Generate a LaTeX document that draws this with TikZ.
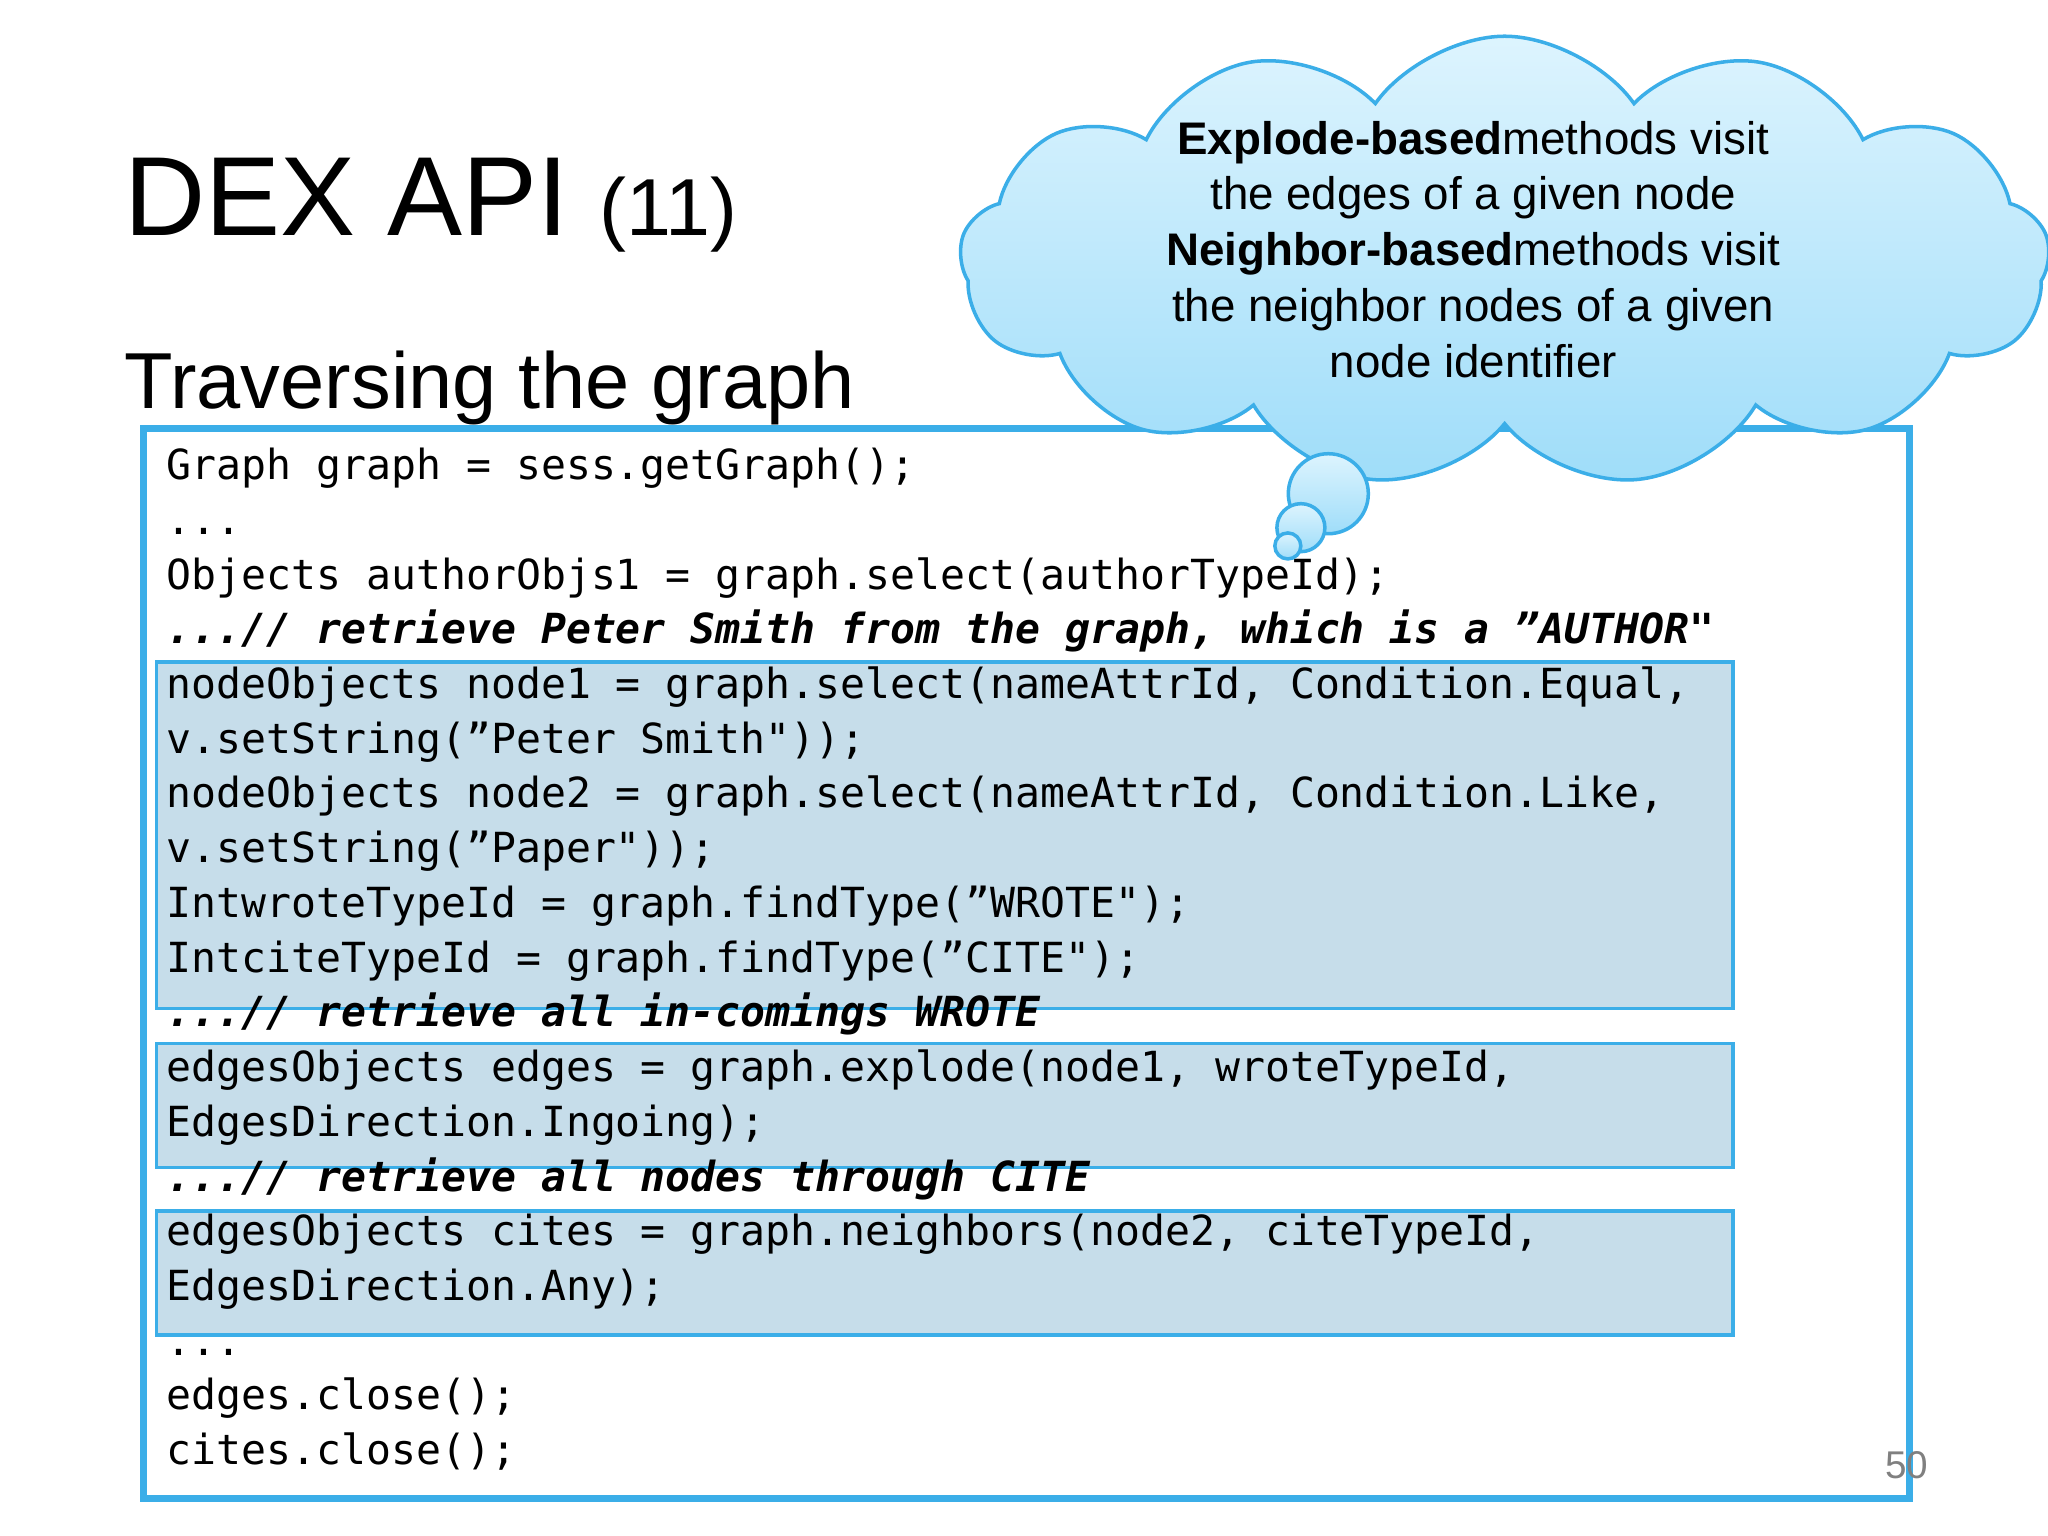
\documentclass[tikz,border=0pt]{standalone}
\usepackage{fontspec}
\setmainfont{Liberation Sans}
\newfontfamily\codefont{DejaVu Sans Mono}
\usetikzlibrary{shapes.symbols, positioning, backgrounds}
\definecolor{framblue}{HTML}{3BAEE8}
\definecolor{hlfill}{HTML}{C6DDEA}
\definecolor{cloudtop}{HTML}{DDF4FE}
\definecolor{cloudbot}{HTML}{9FDDF9}
\tikzset{
	codeline/.style={anchor=west, inner sep=0pt, text height=0.33cm, text depth=0.09cm,
		font=\codefont\fontsize{11.8}{15.6}\selectfont},
	hlbox/.style={draw=framblue, fill=hlfill, line width=1pt},
	bubble/.style={circle, draw=framblue, line width=1pt, top color=cloudtop, bottom color=cloudbot, inner sep=0pt}
}
\newcommand{\cmt}[1]{\textbf{\textit{#1}}}
\newcommand{\elide}{.{}.{}.}
\begin{document}
\begin{tikzpicture}[x=0.01306cm, y=-0.01306cm]
	\useasboundingbox (0,0) rectangle (1568,1176);
	\fill[white] (0,0) rectangle (1568,1176);

	% title
	\node[anchor=base west, inner sep=0pt, font=\fontsize{32}{38}\selectfont] (title) at (95,180) {DEX API \fontsize{23}{28}\selectfont(11)};
	\node[anchor=base west, inner sep=0pt, font=\fontsize{22.6}{27}\selectfont] (sub) at (95,313) {Traversing the graph};

	% code frame and highlighted blocks
	\draw[framblue, line width=2pt] (110,328) rectangle (1462,1147);
	\draw[hlbox] (120,507) rectangle (1327,772);
	\draw[hlbox] (120,799) rectangle (1327,894);
	\draw[hlbox] (120,927) rectangle (1327,1022);

	% code lines
	\foreach \t [count=\i] in {
		{Graph graph = sess.getGraph();},
		{\elide},
		{Objects authorObjs1 = graph.select(authorTypeId);},
		{\cmt{\elide// retrieve Peter Smith from the graph, which is a ”AUTHOR"}},
		{nodeObjects node1 = graph.select(nameAttrId, Condition.Equal,},
		{v.setString(”Peter Smith"));},
		{nodeObjects node2 = graph.select(nameAttrId, Condition.Like,},
		{v.setString(”Paper"));},
		{IntwroteTypeId = graph.findType(”WROTE");},
		{IntciteTypeId = graph.findType(”CITE");},
		{\cmt{\elide// retrieve all in-comings WROTE}},
		{edgesObjects edges = graph.explode(node1, wroteTypeId,},
		{EdgesDirection.Ingoing);},
		{\cmt{\elide// retrieve all nodes through CITE}},
		{edgesObjects cites = graph.neighbors(node2, citeTypeId,},
		{EdgesDirection.Any);},
		{\elide},
		{edges.close();},
		{cites.close();}}
		\node[codeline] (code\i) at (127,{358+41.9*(\i-1)}) {\t};

	\node[text=gray, font=\fontsize{11}{13}\selectfont] (pagenum) at (1460,1122) {50};

	% thought cloud
	\node[cloud, cloud puffs=13, cloud puff arc=110, aspect=2.4, draw=framblue, line width=1pt,
		top color=cloudtop, bottom color=cloudbot, minimum width=10.9cm, minimum height=4.5cm] (cloud) at (1152,200) {};
	\node[bubble, minimum size=0.8cm] (b1) at (1017,378) {};
	\node[bubble, minimum size=0.48cm] (b2) at (996,404) {};
	\node[bubble, minimum size=0.26cm] (b3) at (986,418) {};
	\node[align=center, font=\fontsize{13}{15.9}\selectfont] (cloudtext) at (1128,191)
		{\textbf{Explode-based}methods visit\\ the edges of a given node\\ \textbf{Neighbor-based}methods visit\\ the neighbor nodes of a given\\ node identifier};
\end{tikzpicture}
\end{document}
